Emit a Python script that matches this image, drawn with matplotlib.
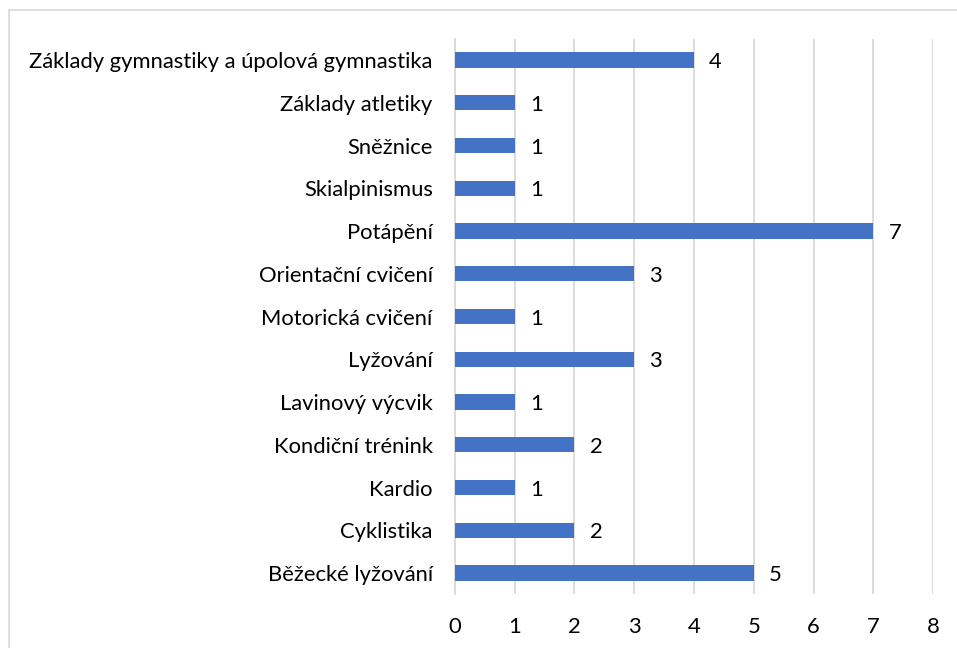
import numpy as np
import matplotlib.pyplot as plt
from matplotlib.patches import Rectangle

categories = [
    "Základy gymnastiky a úpolová gymnastika",
    "Základy atletiky",
    "Sněžnice",
    "Skialpinismus",
    "Potápění",
    "Orientační cvičení",
    "Motorická cvičení",
    "Lyžování",
    "Lavinový výcvik",
    "Kondiční trénink",
    "Kardio",
    "Cyklistika",
    "Běžecké lyžování",
]
values = [4, 1, 1, 1, 7, 3, 1, 3, 1, 2, 1, 2, 5]
x_ticks = [0, 1, 2, 3, 4, 5, 6, 7, 8]

plt.rcParams['font.family'] = ['Lato', 'DejaVu Sans']
font_size = 15.8

fig = plt.figure(figsize=(9.57, 6.48), dpi=100)
ax = fig.add_axes([0.4754, 0.0827, 0.4996, 0.8577])

# figure border (cut off at right and bottom like the reference)
fig.patches.append(Rectangle((9 / 957, -0.1), 1.2, 1 - 10 / 648 + 0.1,
                             transform=fig.transFigure, fill=False,
                             edgecolor='#d9d9d9', linewidth=1.2))

y_pos = np.arange(len(categories))[::-1]
bars = ax.barh(y_pos, values, height=0.36, color='#4472c4', zorder=3)

for y, v in zip(y_pos, values):
    ax.annotate(str(v), (v, y), xytext=(11, 0), textcoords='offset points',
                va='center_baseline', ha='left', fontsize=font_size, color='black')

ax.set_xlim(0, 8)
ax.set_ylim(-0.5, len(categories) - 0.5)
ax.set_xticks(x_ticks)
ax.set_yticks(y_pos)
ax.set_yticklabels(categories)
ax.grid(axis='x', color='#d9d9d9', linewidth=1.3, zorder=0)
ax.set_axisbelow(True)

for side in ['top', 'right', 'bottom']:
    ax.spines[side].set_visible(False)
ax.spines['left'].set_color('#d9d9d9')
ax.spines['left'].set_linewidth(1.3)

ax.tick_params(axis='both', length=0, labelsize=font_size, colors='black')
ax.tick_params(axis='x', pad=16)
ax.tick_params(axis='y', pad=16)

fig.savefig('out.png', dpi=100)
